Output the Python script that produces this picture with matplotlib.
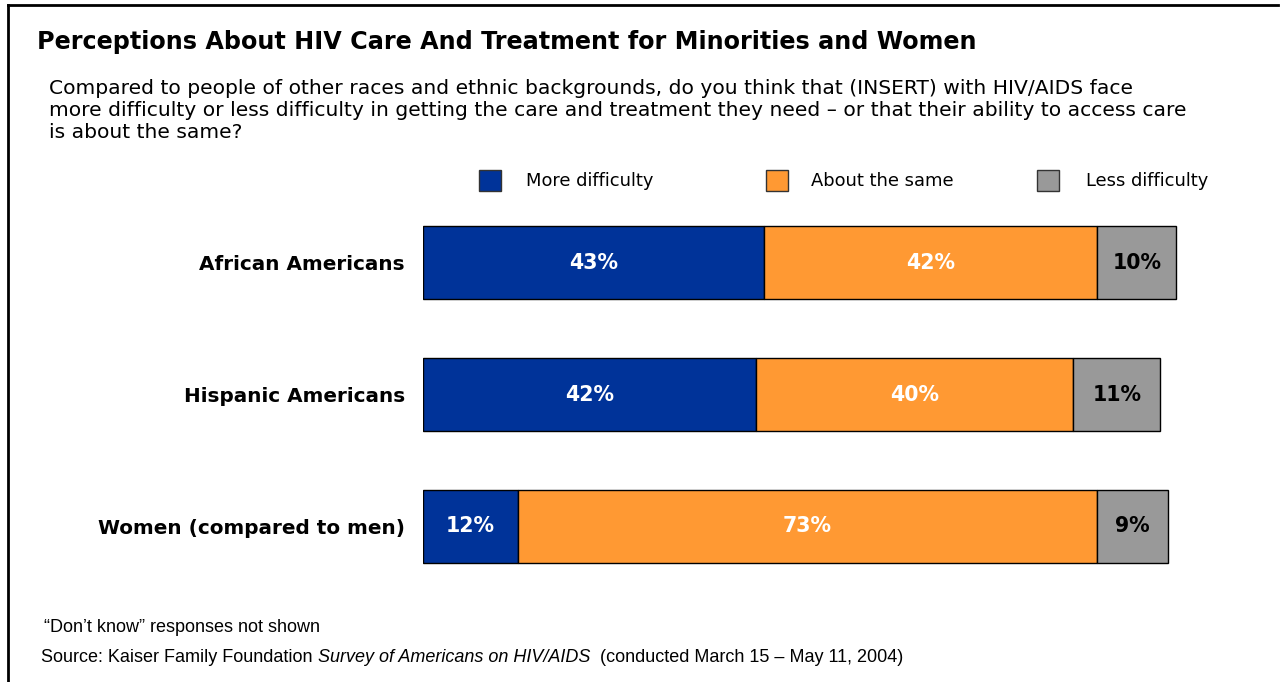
import matplotlib
matplotlib.use('Agg')
import matplotlib.pyplot as plt
from matplotlib.patches import Rectangle
from matplotlib.lines import Line2D

# Survey responses (percent)
groups = ['African Americans', 'Hispanic Americans', 'Women (compared to men)']
series = ['More difficulty', 'About the same', 'Less difficulty']
more_difficulty = [43, 42, 12]
about_same = [42, 40, 73]
less_difficulty = [10, 11, 9]

colors = ['#003399', '#FF9933', '#999999']
label_colors = ['white', 'white', 'black']

W, H = 1287, 682
fig = plt.figure(figsize=(W / 100, H / 100), dpi=100)

# frame lines along the top and left edges
fig.add_artist(Line2D([8 / W, 1278 / W], [1 - 5 / H, 1 - 5 / H], color='black', lw=2))
fig.add_artist(Line2D([8 / W, 8 / W], [0, 1 - 5 / H], color='black', lw=2))

fig.text(37 / W, 1 - 42 / H, 'Perceptions About HIV Care And Treatment for Minorities and Women',
         fontsize=17.2, fontweight='bold', va='center', ha='left')
sub_lines = ['Compared to people of other races and ethnic backgrounds, do you think that (INSERT) with HIV/AIDS face',
             'more difficulty or less difficulty in getting the care and treatment they need \u2013 or that their ability to access care',
             'is about the same?']
for i, line in enumerate(sub_lines):
    fig.text(49 / W, 1 - (88 + 22.5 * i) / H, line, fontsize=14.6, va='center', ha='left')

# bar chart area: x in percent, 0 at pixel 423
ax = fig.add_axes([423 / W, (H - 592.5) / H, 793 / W, 396 / H])
ax.set_xlim(0, 100)
ax.set_ylim(2.5, -0.5)

data = [more_difficulty, about_same, less_difficulty]
ypos = list(range(len(groups)))
left = [0] * len(groups)
for vals, c, lc in zip(data, colors, label_colors):
    ax.barh(ypos, vals, left=left, height=0.553, color=c, edgecolor='black', linewidth=1)
    for y, v, l in zip(ypos, vals, left):
        ax.text(l + v / 2, y, f'{v}%', ha='center', va='center', color=lc,
                fontsize=14.8, fontweight='bold')
    left = [l + v for l, v in zip(left, vals)]

ax.set_yticks(ypos)
ax.set_yticklabels(groups, fontsize=14.4, fontweight='bold')
ax.tick_params(axis='y', length=0, pad=13)
ax.set_xticks([])
for s in ax.spines.values():
    s.set_visible(False)

# legend
legend_x = [479, 766, 1037]
text_x = [526, 811, 1086]
for sx, tx, c, name in zip(legend_x, text_x, colors, series):
    fig.add_artist(Rectangle((sx / W, 1 - 191 / H), 22 / W, 21 / H, facecolor=c,
                             edgecolor='#333333', linewidth=1, transform=fig.transFigure))
    fig.text(tx / W, 1 - 181 / H, name, fontsize=12.9, va='center', ha='left')

# footnotes
fig.text(44 / W, 1 - 628 / H, '\u201cDon\u2019t know\u201d responses not shown',
         fontsize=13, va='center', ha='left', family='Liberation Sans')

fig.canvas.draw()
renderer = fig.canvas.get_renderer()
parts = [('Source: Kaiser Family Foundation ', 'normal'),
         ('Survey of Americans on HIV/AIDS', 'italic'),
         ('  (conducted March 15 \u2013 May 11, 2004)', 'normal')]
x = 41 / W
for txt, style in parts:
    t = fig.text(x, 1 - 658 / H, txt, fontsize=13, style=style, va='center', ha='left',
                 family='Liberation Sans')
    bb = t.get_window_extent(renderer=renderer)
    x += bb.width / W

fig.savefig('out.png', dpi=100)
